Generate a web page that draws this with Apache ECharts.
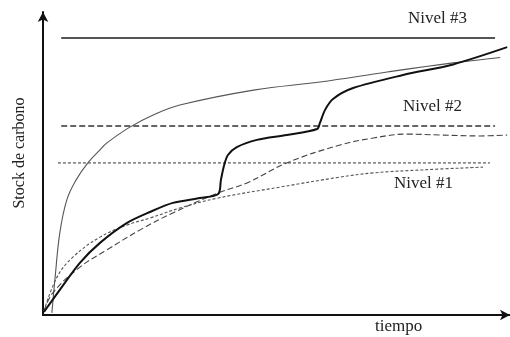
<!DOCTYPE html>
<html>
<head>
<meta charset="utf-8">
<script src="https://cdn.jsdelivr.net/npm/echarts@6/dist/echarts.min.js"></script>
<style>
  html, body { margin: 0; padding: 0; background: #fff; }
  #chart { width: 510px; height: 337px; }
</style>
</head>
<body>
<div id="chart"></div>
<script>
// niveles (umbral horizontal): valor, inicio, fin
var levelNames = ['Nivel #1', 'Nivel #2', 'Nivel #3'];
var levelValues = [50.2, 62.4, 91.4];
var levelFrom = [3.2, 3.9, 3.9];
var levelTo = [95.7, 96.8, 96.8];

// curva fina (crecimiento rapido)
var thinX = [1.9, 2.6, 3.6, 5.1, 7.1, 9.6, 12.2, 13.7, 18.6, 23.6, 29.3, 45.4, 59.3, 73.7, 87.8, 97.9];
var thinY = [0.7, 12.5, 27.1, 38.0, 44.6, 50.2, 54.5, 56.8, 62.0, 66.0, 69.3, 74.3, 76.9, 80.2, 83.2, 85.0];

// curva gruesa con saltos
var thickX = [0.2, 3.6, 7.9, 12.2, 18.0, 22.9, 27.8, 33.6, 37.5, 38.1, 38.8, 39.6, 41.5, 45.8, 52.2, 58.7, 59.3, 60.4, 62.1, 66.4, 77.1, 87.8, 99.4];
var thickY = [1.0, 8.3, 17.2, 23.8, 30.4, 34.0, 37.0, 38.6, 39.9, 44.6, 49.5, 52.8, 55.4, 57.8, 59.4, 61.4, 63.4, 67.7, 71.3, 74.9, 79.2, 82.7, 88.4];

// curva de trazos largos
var dashX = [0.2, 2.1, 7.9, 13.7, 20.8, 27.8, 37.5, 43.7, 52.2, 63.6, 70.7, 77.9, 85.0, 93.6, 99.4];
var dashY = [1.3, 7.3, 15.8, 21.5, 28.1, 33.7, 40.3, 43.6, 50.2, 56.1, 58.4, 59.7, 59.4, 59.1, 59.4];

// curva punteada
var dotX = [0.2, 3.0, 6.4, 12.2, 18.0, 22.9, 29.3, 37.5, 50.7, 63.6, 70.7, 81.4, 94.2];
var dotY = [1.3, 12.5, 19.1, 25.7, 29.7, 32.0, 35.3, 38.6, 42.2, 45.5, 46.9, 47.9, 48.8];

function pairs(xs, ys) {
  return xs.map(function (x, i) { return [x, ys[i]]; });
}

var serif = 'Liberation Serif';
var levelStyles = [
  { color: '#8a8a8a', width: 1.6, type: [3, 2] },
  { color: '#333', width: 1.6, type: [6, 3] },
  { color: '#555', width: 2, type: 'solid' }
];

var series = [];
levelValues.forEach(function (v, i) {
  series.push({
    name: levelNames[i],
    type: 'line',
    symbol: 'none',
    data: [[levelFrom[i], v], [levelTo[i], v]],
    lineStyle: levelStyles[i]
  });
});
series.push({
  type: 'line', symbol: 'none', smooth: 0.4,
  data: pairs(thinX, thinY),
  lineStyle: { color: '#555', width: 1.1 }
});
series.push({
  type: 'line', symbol: 'none', smooth: 0.4,
  data: pairs(dashX, dashY),
  lineStyle: { color: '#444', width: 1.1, type: [6, 3] }
});
series.push({
  type: 'line', symbol: 'none', smooth: 0.4,
  data: pairs(dotX, dotY),
  lineStyle: { color: '#555', width: 1.1, type: [3, 2] }
});
series.push({
  type: 'line', symbol: 'none', smooth: 0.3,
  data: pairs(thickX, thickY),
  lineStyle: { color: '#111', width: 2 }
});

var chart = echarts.init(document.getElementById('chart'));
chart.setOption({
  animation: false,
  grid: { left: 43, right: 0, top: 12, bottom: 22 },
  xAxis: {
    type: 'value', min: 0, max: 100,
    axisLine: { show: true, symbol: ['none', 'arrow'], symbolSize: [8, 10], lineStyle: { color: '#111', width: 2 } },
    axisTick: { show: false }, axisLabel: { show: false }, splitLine: { show: false }
  },
  yAxis: {
    type: 'value', min: 0, max: 100,
    axisLine: { show: true, symbol: ['none', 'arrow'], symbolSize: [8, 10], lineStyle: { color: '#111', width: 2 } },
    axisTick: { show: false }, axisLabel: { show: false }, splitLine: { show: false }
  },
  graphic: [
    { type: 'text', left: 408, top: 10, style: { text: 'Nivel #3', font: '17px "' + serif + '"', fill: '#222' } },
    { type: 'text', left: 403, top: 98, style: { text: 'Nivel #2', font: '17px "' + serif + '"', fill: '#222' } },
    { type: 'text', left: 394, top: 175, style: { text: 'Nivel #1', font: '17px "' + serif + '"', fill: '#222' } },
    { type: 'text', left: 375, top: 318, style: { text: 'tiempo', font: '17px "' + serif + '"', fill: '#222' } },
    { type: 'text', x: 20, y: 153, rotation: Math.PI / 2,
      style: { text: 'Stock de carbono', font: '16px "' + serif + '"', fill: '#222', align: 'center', verticalAlign: 'middle' } }
  ],
  series: series
});
</script>
</body>
</html>
